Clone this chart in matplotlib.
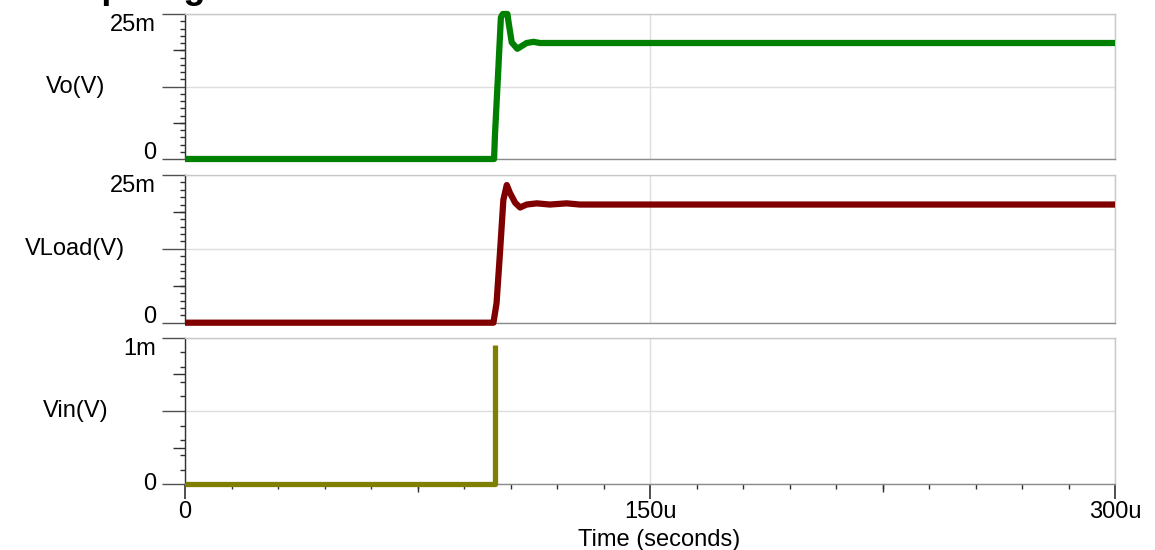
import numpy as np
import matplotlib.pyplot as plt
from matplotlib.ticker import FixedLocator, MultipleLocator, NullFormatter

plt.rcParams['font.family'] = ['Liberation Sans', 'DejaVu Sans']

# данные (время в мкс, напряжения в мВ)
t_vo = [0, 99.7, 100.0, 101.1, 101.9, 102.5, 104.0, 104.4, 105.4, 107.2, 110.2, 112.4, 114.5, 300]
vo_mv = [0, 0, 4.3, 15.8, 24.4, 25.0, 25.0, 23.5, 20.1, 19.0, 20.0, 20.2, 20.0, 20.0]

t_vload = [0, 99.5, 100.5, 101.6, 102.7, 103.8, 104.8, 106.5, 108.1, 110.2, 113.5, 117.7, 123.1, 127.4, 300]
vload_mv = [0, 0, 3.3, 11.8, 20.8, 23.3, 22.0, 20.3, 19.5, 20.0, 20.2, 20.0, 20.2, 20.0, 20.0]

t_vin = [0, 100.0, 100.0]
vin_mv = [0, 0, 0.95]

x_ticks = [0, 150e-6, 300e-6]
x_labels = ['0', '150u', '300u']

panels = [
    ('Vo(V)', t_vo, vo_mv, '#008000', 25e-3, '25m', 4.5),
    ('VLoad(V)', t_vload, vload_mv, '#800000', 25e-3, '25m', 4.5),
    ('Vin(V)', t_vin, vin_mv, '#808000', 1e-3, '1m', 3.8),
]

W, H = 1155, 550
PT = 0.72  # пикселей -> пунктов при dpi=100
fig = plt.figure(figsize=(W / 100, H / 100), dpi=100)

# положения панелей в пикселях (верх, низ)
rows = [(14, 159), (175, 322.7), (337.6, 484.3)]
left_px, right_px = 185, 1115

fs = 17
axes = []
for (name, t, v, col, ymax, ylab, lw), (top, bot) in zip(panels, rows):
    ax = fig.add_axes([left_px / W, 1 - bot / H, (right_px - left_px) / W, (bot - top) / H])
    axes.append(ax)
    ax.plot(np.array(t) * 1e-6, np.array(v) * 1e-3, color=col, lw=lw,
            solid_capstyle='butt', clip_on=False, zorder=5)
    ax.set_xlim(0, 300e-6)
    ax.set_ylim(0, ymax)

    ax.spines['left'].set_color('#303030')
    ax.spines['top'].set_color('#c8c8c8')
    ax.spines['right'].set_color('#c8c8c8')
    ax.spines['bottom'].set_color('#8c8c8c')
    for s in ax.spines.values():
        s.set_linewidth(1.0)

    ax.yaxis.set_major_locator(FixedLocator([0, ymax / 2, ymax]))
    ax.set_yticklabels(['0', '', ylab], fontsize=fs)
    labs = ax.get_yticklabels()
    labs[0].set_va('baseline')
    labs[2].set_va('top')
    n_minor = 20 if ymax > 1e-3 else 10
    ax.yaxis.set_minor_locator(MultipleLocator(ymax / n_minor))
    ax.tick_params(axis='y', which='major', length=23 * PT, width=1, color='#505050', pad=6 * PT)
    ax.tick_params(axis='y', which='minor', length=5 * PT, width=1, color='#303030')

    # средние штрихи на четвертях шкалы
    sec = ax.secondary_yaxis('left')
    sec.set_yticks([ymax / 4, 3 * ymax / 4])
    sec.set_yticklabels(['', ''])
    sec.tick_params(length=12 * PT, width=1, color='#303030')
    sec.spines['left'].set_visible(False)

    ax.xaxis.set_major_locator(FixedLocator(x_ticks))
    ax.grid(True, which='major', color='#dedede', lw=1)
    ax.set_axisbelow(True)

    ax.set_ylabel(name, rotation=0, fontsize=fs, ha='center', va='center')
    ax.yaxis.set_label_coords(-0.118, 0.5)

for ax in axes[:2]:
    ax.tick_params(axis='x', which='both', length=0, labelbottom=False)

axb = axes[2]
axb.get_yticklabels()[0].set_va('center')
axb.set_xticklabels(x_labels, fontsize=fs)
axb.xaxis.set_minor_locator(MultipleLocator(15e-6))
axb.xaxis.set_minor_formatter(NullFormatter())
axb.tick_params(axis='x', which='major', length=15 * PT, width=1.2, color='#303030', pad=1)
axb.tick_params(axis='x', which='minor', length=5 * PT, width=1, color='#303030')
secx = axb.secondary_xaxis('bottom')
secx.set_xticks([75e-6, 225e-6])
secx.set_xticklabels(['', ''])
secx.tick_params(length=8 * PT, width=1, color='#303030')
secx.spines['bottom'].set_visible(False)
axb.set_xlabel('Time (seconds)', fontsize=fs, va='baseline')
axb.xaxis.set_label_coords(0.51, -0.42)

# заголовок почти целиком уходит за верхний край, как на исходной картинке
fig.text(45 / W, 1 + 2 / H, 'Step Magnitude', fontsize=26, fontweight='bold',
         ha='left', va='baseline')

fig.savefig('out.png', dpi=100)
